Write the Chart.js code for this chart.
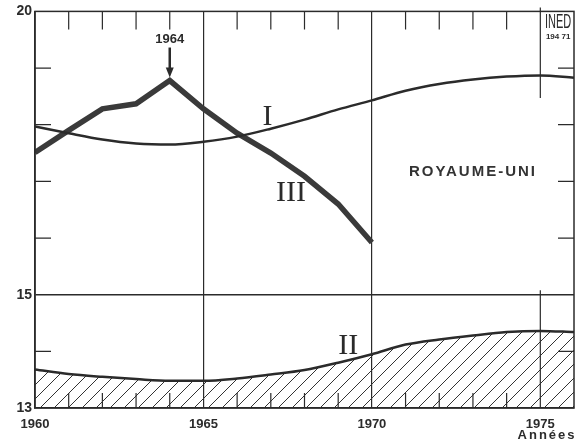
<!DOCTYPE html>
<html>
<head>
<meta charset="utf-8">
<script src="https://cdn.jsdelivr.net/npm/chart.js"></script>
<style>
  html, body { margin: 0; padding: 0; background: #ffffff; }
  #wrap { width: 587px; height: 446px; }
</style>
</head>
<body>
<div id="wrap"><canvas id="chart" width="587" height="446"></canvas></div>
<script>
// Années (axe des x)
const years = [1960, 1961, 1962, 1963, 1964, 1965, 1966, 1967, 1968, 1969, 1970, 1971, 1972, 1973, 1974, 1975, 1976];
// Courbe I
const serieI = [17.97, 17.85, 17.74, 17.67, 17.65, 17.70, 17.79, 17.93, 18.09, 18.27, 18.43, 18.60, 18.72, 18.80, 18.85, 18.87, 18.83];
// Courbe II (zone hachurée)
const serieII = [13.68, 13.60, 13.55, 13.51, 13.48, 13.48, 13.52, 13.59, 13.67, 13.80, 13.95, 14.12, 14.21, 14.28, 14.34, 14.36, 14.34];
// Courbe III (observée, jusqu'en 1970)
const yearsIII = [1960, 1961, 1962, 1963, 1964, 1965, 1966, 1967, 1968, 1969, 1970];
const serieIII = [17.51, 17.90, 18.28, 18.37, 18.78, 18.28, 17.85, 17.50, 17.09, 16.60, 15.92];

const xLabels = [1960, 1965, 1970, 1975];
const xGrid = [1965, 1970];
const yLabels = [13, 15, 20];
const yGrid = [15];
const yMinor = [14, 16, 17, 18, 19];

const ink = '#2b2b2b';

function toPoints(xs, ys) {
    return xs.map((x, i) => ({ x: x, y: ys[i] }));
}

// hatch pattern for area under II
function makeHatch() {
    const size = 14;
    const c = document.createElement('canvas');
    c.width = size;
    c.height = size;
    const g = c.getContext('2d');
    g.strokeStyle = '#333';
    g.lineWidth = 1;
    g.beginPath();
    g.moveTo(0, size); g.lineTo(size, 0);
    g.moveTo(-2, 2); g.lineTo(2, -2);
    g.moveTo(size - 2, size + 2); g.lineTo(size + 2, size - 2);
    g.stroke();
    return g.createPattern(c, 'repeat');
}

const decor = {
    id: 'decor',
    afterDraw(chart) {
        const ctx = chart.ctx;
        const a = chart.chartArea;
        const xs = chart.scales.x;
        const ys = chart.scales.y;
        ctx.save();
        ctx.strokeStyle = ink;
        ctx.fillStyle = ink;

        // frame
        ctx.lineWidth = 1.5;
        ctx.strokeRect(a.left, a.top, a.right - a.left, a.bottom - a.top);

        // small year ticks, top and bottom
        ctx.lineWidth = 1.2;
        years.forEach(y => {
            if (y === 1960 || y === 1976 || y % 5 === 0) return;
            const px = xs.getPixelForValue(y);
            ctx.beginPath();
            ctx.moveTo(px, a.top); ctx.lineTo(px, a.top + 18);
            ctx.moveTo(px, a.bottom); ctx.lineTo(px, a.bottom - 15);
            ctx.stroke();
        });

        // small value ticks, left and right
        yMinor.forEach(v => {
            const py = ys.getPixelForValue(v);
            ctx.beginPath();
            ctx.moveTo(a.left, py); ctx.lineTo(a.left + 16, py);
            ctx.moveTo(a.right, py); ctx.lineTo(a.right - 16, py);
            ctx.stroke();
        });

        // 1975 line, interrupted around the country name
        const x75 = xs.getPixelForValue(1975);
        ctx.lineWidth = 1.2;
        ctx.beginPath();
        ctx.moveTo(x75, a.top - 4); ctx.lineTo(x75, ys.getPixelForValue(18.47));
        ctx.moveTo(x75, ys.getPixelForValue(15.08)); ctx.lineTo(x75, a.bottom);
        ctx.stroke();

        // arrow for 1964 peak
        const x64 = xs.getPixelForValue(1964);
        const tip = ys.getPixelForValue(serieIII[4]) - 3;
        ctx.lineWidth = 2.5;
        ctx.beginPath();
        ctx.moveTo(x64, tip - 30); ctx.lineTo(x64, tip - 8);
        ctx.stroke();
        ctx.beginPath();
        ctx.moveTo(x64 - 4, tip - 10); ctx.lineTo(x64 + 4, tip - 10); ctx.lineTo(x64, tip);
        ctx.closePath();
        ctx.fill();
        ctx.font = 'bold 13px "Liberation Sans"';
        ctx.textAlign = 'center';
        ctx.textBaseline = 'middle';
        ctx.fillText('1964', x64, tip - 38);

        // roman numerals
        ctx.font = '30px "Liberation Serif"';
        ctx.fillText('I', xs.getPixelForValue(1966.9), ys.getPixelForValue(18.14));
        ctx.fillText('III', xs.getPixelForValue(1967.6), ys.getPixelForValue(16.80));
        ctx.fillText('II', xs.getPixelForValue(1969.3), ys.getPixelForValue(14.10));

        // country name
        ctx.font = 'bold 15px "Liberation Sans"';
        ctx.letterSpacing = '2px';
        ctx.fillStyle = '#333';
        ctx.fillText('ROYAUME-UNI', xs.getPixelForValue(1973.0), ys.getPixelForValue(17.16));

        // axis title
        ctx.font = 'bold 13px "Liberation Sans"';
        ctx.letterSpacing = '2px';
        ctx.fillStyle = ink;
        ctx.fillText('Années', xs.getPixelForValue(1975.2), a.bottom + 27);
        ctx.letterSpacing = '0px';

        // INED logo
        const lx = (x75 + a.right) / 2 + 1;
        ctx.save();
        ctx.translate(lx, a.top + 11);
        ctx.scale(0.55, 1);
        ctx.font = '20px "Liberation Sans"';
        ctx.fillText('INED', 0, 0);
        ctx.restore();
        ctx.font = 'bold 8px "Liberation Sans"';
        ctx.fillText('194 71', lx, a.top + 25);

        ctx.restore();
    }
};

const chart = new Chart(document.getElementById('chart'), {
    type: 'line',
    data: {
        datasets: [{
            label: 'II',
            data: toPoints(years, serieII),
            borderColor: ink,
            borderWidth: 2.5,
            backgroundColor: makeHatch(),
            fill: 'start',
            cubicInterpolationMode: 'monotone',
            pointRadius: 0
        }, {
            label: 'I',
            data: toPoints(years, serieI),
            borderColor: ink,
            borderWidth: 2.5,
            fill: false,
            cubicInterpolationMode: 'monotone',
            pointRadius: 0
        }, {
            label: 'III',
            data: toPoints(yearsIII, serieIII),
            borderColor: '#3a3a3a',
            borderWidth: 5.5,
            borderJoinStyle: 'miter',
            fill: false,
            tension: 0,
            pointRadius: 0
        }]
    },
    options: {
        responsive: false,
        animation: false,
        layout: { padding: { top: 8, right: 13, left: 0, bottom: 0 } },
        plugins: {
            legend: { display: false },
            tooltip: { enabled: false }
        },
        scales: {
            x: {
                type: 'linear',
                min: 1960,
                max: 1976,
                afterBuildTicks: (scale) => { scale.ticks = years.map(v => ({ value: v })); },
                afterFit: (scale) => { scale.height = 38; },
                ticks: {
                    autoSkip: false,
                    maxRotation: 0,
                    padding: 9,
                    color: ink,
                    font: { family: 'Liberation Sans', weight: 'bold', size: 13 },
                    callback: (v) => xLabels.includes(v) ? String(v) : ''
                },
                grid: {
                    drawTicks: false,
                    lineWidth: 1.2,
                    color: (c) => xGrid.includes(c.tick && c.tick.value) ? ink : 'rgba(0,0,0,0)'
                },
                border: { display: true, color: ink, width: 1.5 }
            },
            y: {
                min: 13,
                max: 20,
                afterBuildTicks: (scale) => { scale.ticks = [13, 14, 15, 16, 17, 18, 19, 20].map(v => ({ value: v })); },
                afterFit: (scale) => { scale.width = 35; },
                ticks: {
                    autoSkip: false,
                    padding: 3,
                    color: ink,
                    font: { family: 'Liberation Sans', weight: 'bold', size: 14 },
                    callback: (v) => yLabels.includes(v) ? String(v) : ''
                },
                grid: {
                    drawTicks: false,
                    lineWidth: 1.5,
                    color: (c) => yGrid.includes(c.tick && c.tick.value) ? ink : 'rgba(0,0,0,0)'
                },
                border: { display: true, color: ink, width: 1.5 }
            }
        }
    },
    plugins: [decor]
});
</script>
</body>
</html>
